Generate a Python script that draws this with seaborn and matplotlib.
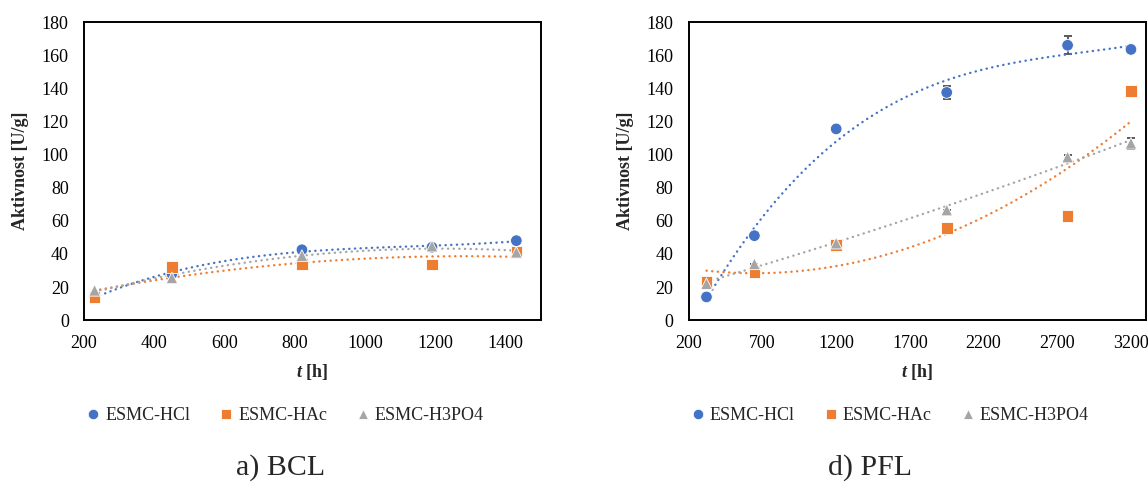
import numpy as np
import pandas as pd
import matplotlib.pyplot as plt
import seaborn as sns

# BCL data
bcl_t = [230, 450, 820, 1190, 1430]
bcl_hcl = [14, 28, 42.5, 44, 48]
bcl_hac = [14, 32, 34, 33.5, 41.3]
bcl_h3po4 = [18, 25.5, 39, 44.7, 41]

# PFL data
pfl_t = [320, 645, 1200, 1950, 2770, 3200]
pfl_hcl = [14, 51, 115.5, 137.5, 166, 163.5]
pfl_hac = [23, 29.2, 45.5, 55.6, 63, 138.5]
pfl_h3po4 = [22, 34, 46.5, 66.5, 98.5, 106.8]
pfl_hcl_err = [0, 0, 0, 4, 5.5, 1]
pfl_hac_err = [0, 0, 0, 0, 0, 0]
pfl_h3po4_err = [0, 0, 0, 0, 1.5, 3.5]

series = ["ESMC-HCl", "ESMC-HAc", "ESMC-H3PO4"]
colors = {"ESMC-HCl": "#4472C4", "ESMC-HAc": "#ED7D31", "ESMC-H3PO4": "#A5A5A5"}
markers = {"ESMC-HCl": "o", "ESMC-HAc": "s", "ESMC-H3PO4": "^"}
# polynomial order of each trend line
bcl_order = {"ESMC-HCl": 3, "ESMC-HAc": 2, "ESMC-H3PO4": 2}
pfl_order = {"ESMC-HCl": 3, "ESMC-HAc": 2, "ESMC-H3PO4": 2}

sns.set_style("white")
plt.rcParams["font.family"] = ["Liberation Serif", "DejaVu Serif"]
plt.rcParams["mathtext.fontset"] = "custom"
plt.rcParams["mathtext.it"] = "Liberation Serif:italic:bold"
plt.rcParams["mathtext.rm"] = "Liberation Serif:bold"

FS = 13


def make_df(t, a, b, c):
    return pd.DataFrame({
        "t": t * 3,
        "val": list(a) + list(b) + list(c),
        "series": [s for s in series for _ in t],
    })


def draw_panel(ax, df, xlim, xticks, orders, errs=None):
    if errs is not None:
        for s in series:
            d = df[df["series"] == s]
            ax.errorbar(d["t"], d["val"], yerr=errs[s], fmt="none",
                        ecolor="#595959", elinewidth=1.4, capsize=3,
                        capthick=1.4, zorder=2)
    for s in series:
        d = df[df["series"] == s]
        sns.regplot(data=d, x="t", y="val", order=orders[s], ci=None,
                    scatter=False, ax=ax, color=colors[s],
                    line_kws={"linestyle": (0, (0.1, 2.3)), "lw": 1.7,
                              "dash_capstyle": "round", "zorder": 3})
    sns.scatterplot(data=df, x="t", y="val", hue="series", style="series",
                    palette=colors, markers=markers, s=70,
                    edgecolor="white", linewidth=0.6, ax=ax, zorder=4)
    ax.set_xlim(*xlim)
    ax.set_ylim(0, 180)
    ax.set_xticks(xticks)
    ax.set_yticks(range(0, 181, 20))
    ax.tick_params(axis="both", direction="in", length=4, width=1.2,
                   labelsize=FS, colors="black")
    ax.tick_params(axis="x", pad=11)
    ax.tick_params(axis="y", pad=11)
    for sp in ax.spines.values():
        sp.set_color("black")
        sp.set_linewidth(1.4)
    ax.set_xlabel(r"$t$ [h]", fontsize=FS, fontweight="bold", labelpad=7)
    ax.set_ylabel("Aktivnost [U/g]", fontsize=FS, fontweight="bold", labelpad=9)
    handles, labels = ax.get_legend_handles_labels()
    ax.legend(handles, labels, loc="center", bbox_to_anchor=(0.44, -0.32),
              ncol=3, frameon=False, fontsize=FS, handlelength=0.8,
              handletextpad=0.25, columnspacing=1.6, markerscale=0.9)


fig = plt.figure(figsize=(11.48, 4.91), dpi=100)
ax1 = fig.add_axes([0.0732, 0.348, 0.398, 0.607])
ax2 = fig.add_axes([0.600, 0.348, 0.398, 0.607])

draw_panel(ax1, make_df(bcl_t, bcl_hcl, bcl_hac, bcl_h3po4),
           (200, 1500), range(200, 1401, 200), bcl_order)
draw_panel(ax2, make_df(pfl_t, pfl_hcl, pfl_hac, pfl_h3po4),
           (200, 3300), range(200, 3201, 500), pfl_order,
           errs={"ESMC-HCl": pfl_hcl_err, "ESMC-HAc": pfl_hac_err,
                 "ESMC-H3PO4": pfl_h3po4_err})

fig.text(0.244, 0.047, "a) BCL", ha="center", va="center", fontsize=21.5)
fig.text(0.758, 0.047, "d) PFL", ha="center", va="center", fontsize=21.5)

plt.savefig("out.png", dpi=100)
